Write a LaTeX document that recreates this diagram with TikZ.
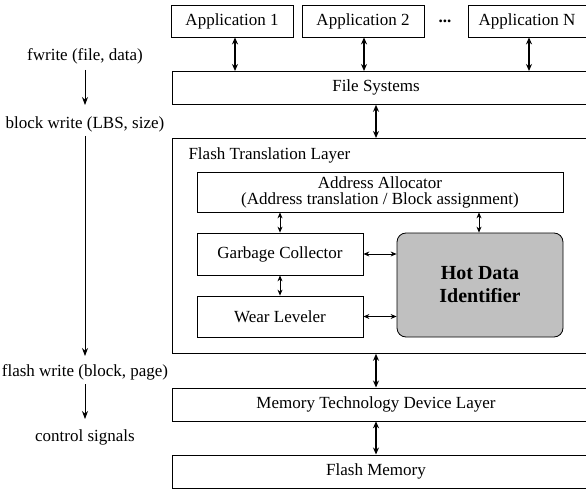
\documentclass[tikz,border=0pt]{standalone}
\usepackage{fontspec}
\setmainfont{Liberation Serif}
\usetikzlibrary{arrows.meta}
\definecolor{hotgray}{RGB}{192,192,192}
\begin{document}
\begin{tikzpicture}[x=1pt,y=-1pt,
  every node/.style={font=\fontsize{17}{19}\selectfont},
  box/.style={draw, line width=0.8pt, inner sep=0pt},
  hot/.style={draw, line width=0.8pt, rounded corners=9pt, fill=hotgray, inner sep=0pt},
  big/.style={{Stealth[length=7pt,width=6pt]}-{Stealth[length=7pt,width=6pt]}, line width=1.4pt},
  small/.style={{Stealth[length=6pt,width=5pt]}-{Stealth[length=6pt,width=5pt]}, line width=0.8pt},
  down/.style={-{Stealth[length=8pt,width=6pt]}, line width=0.8pt}]
\useasboundingbox (0,0) rectangle (586,489);
\clip (0,0) rectangle (586,489);
% applications
\node[box, minimum width=122pt, minimum height=32pt] (app1) at (232,21) {Application 1};
\node[box, minimum width=122pt, minimum height=32pt] (app2) at (363,21) {Application 2};
\node (dots) at (445,21) {\textbf{...}};
\node[box, minimum width=130pt, minimum height=32pt, anchor=west] (appn) at (467.5,21) {};
\node[anchor=west] (appntext) at (475,21) {Application N};
% layers
\node[box, minimum width=440pt, minimum height=33pt, anchor=north west] (fs) at (171.5,71) {};
\node (fstext) at (376,87.5) {File Systems};
\node[box, minimum width=440pt, minimum height=215pt, anchor=north west] (ftl) at (171.5,138) {};
\node[anchor=west] (ftltext) at (185,155) {Flash Translation Layer};
\node[box, minimum width=440pt, minimum height=33pt, anchor=north west] (mtd) at (171.5,387.5) {};
\node (mtdtext) at (376,404) {Memory Technology Device Layer};
\node[box, minimum width=440pt, minimum height=33pt, anchor=north west] (fm) at (171.5,454.5) {};
\node (fmtext) at (376,471) {Flash Memory};
% FTL internals
\node[box, minimum width=366pt, minimum height=40pt, align=center] (aa) at (380,192)
  {Address Allocator\\[-3pt](Address translation / Block assignment)};
\node[box, minimum width=166pt, minimum height=42pt] (gc) at (280,254) {Garbage Collector};
\node[box, minimum width=166pt, minimum height=41pt] (wl) at (280,316.5) {Wear Leveler};
\node[hot, minimum width=166pt, minimum height=104pt, align=center,
  font=\fontsize{20}{23}\selectfont\bfseries] (hdi) at (480,285) {Hot Data\\Identifier};
% arrows between layers
\draw[big] (app1.south -| 235,0) -- (fs.north -| 235,0);
\draw[big] (app2.south -| 364,0) -- (fs.north -| 364,0);
\draw[big] (appn.south -| 529,0) -- (fs.north -| 529,0);
\draw[big] (fs.south -| 376,0) -- (ftl.north -| 376,0);
\draw[big] (ftl.south -| 376,0) -- (mtd.north -| 376,0);
\draw[big] (mtd.south -| 376,0) -- (fm.north -| 376,0);
% inner arrows
\draw[small] (aa.south -| 280,0) -- (gc.north);
\draw[small] (aa.south -| 479,0) -- (hdi.north -| 479,0);
\draw[small] (gc.south) -- (wl.north);
\draw[small] (gc.east) -- (gc.east -| hdi.west);
\draw[small] (wl.east) -- (wl.east -| hdi.west);
% left column
\node (l1) at (85,56) {fwrite (file, data)};
\node (l2) at (85,124) {block write (LBS, size)};
\node (l3) at (85,372) {flash write (block, page)};
\node (l4) at (85,437) {control signals};
\coordinate (d1a) at (85,70);  \coordinate (d1b) at (85,105);
\coordinate (d2a) at (85,136); \coordinate (d2b) at (85,356);
\coordinate (d3a) at (85,384); \coordinate (d3b) at (85,419);
\draw[down] (d1a) -- (d1b);
\draw[down] (d2a) -- (d2b);
\draw[down] (d3a) -- (d3b);
\end{tikzpicture}
\end{document}
